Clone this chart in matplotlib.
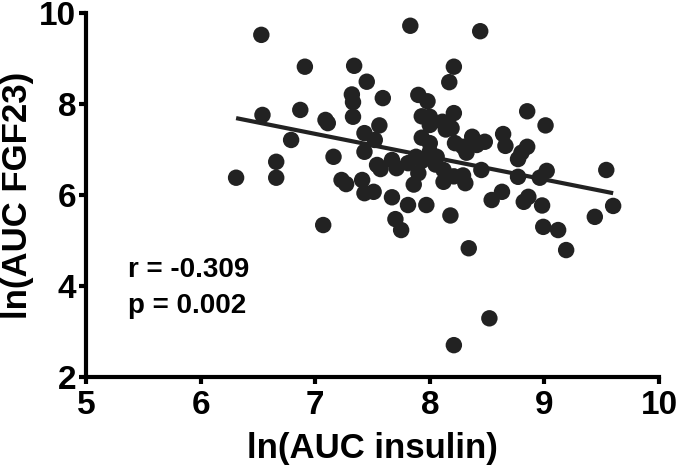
import matplotlib
matplotlib.use("Agg")
import matplotlib.pyplot as plt
import numpy as np

plt.rcParams['font.family'] = ['Liberation Sans', 'DejaVu Sans']
plt.rcParams['font.weight'] = 'bold'

insulin = [6.31, 6.53, 6.54, 6.66, 6.66, 6.79, 6.87, 6.91, 7.09, 7.11,
           7.07, 7.16, 7.23, 7.27, 7.32, 7.33, 7.34, 7.33, 7.41, 7.43,
           7.43, 7.45, 7.43, 7.51, 7.52, 7.56, 7.59, 7.54, 7.57, 7.67,
           7.71, 7.67, 7.70, 7.75, 7.81, 7.83, 7.88, 7.93, 7.90, 7.98,
           7.93, 8.00, 8.00, 7.93, 8.00, 7.81, 7.97, 7.86, 7.90, 8.00,
           8.06, 8.05, 8.12, 8.12, 8.15, 8.11, 8.14, 8.19, 8.21, 8.17,
           8.21, 8.22, 8.21, 8.29, 8.31, 8.29, 8.32, 8.37, 8.41, 8.48,
           8.44, 8.18, 8.21, 8.34, 8.52, 8.45, 8.54, 8.63, 8.64, 8.66,
           8.77, 8.80, 8.85, 8.77, 8.82, 8.86, 8.85, 9.01, 8.96, 9.02,
           8.98, 8.99, 9.12, 9.19, 9.44, 9.54, 9.60]
fgf23 = [6.38, 9.52, 7.76, 6.73, 6.38, 7.21, 7.87, 8.82, 7.65, 7.58,
         5.34, 6.84, 6.33, 6.24, 8.21, 8.04, 8.84, 7.72, 6.33, 7.36,
         6.95, 8.49, 6.04, 6.07, 7.21, 7.53, 8.13, 6.66, 6.57, 6.77,
         6.59, 5.95, 5.47, 5.23, 6.70, 9.72, 6.84, 6.75, 8.20, 8.06,
         7.73, 7.72, 7.54, 7.26, 7.14, 5.78, 5.78, 6.23, 6.48, 6.95,
         6.84, 6.67, 6.55, 6.29, 6.40, 7.61, 7.44, 7.47, 7.80, 8.48,
         8.82, 7.14, 6.41, 6.43, 6.26, 7.06, 6.93, 7.28, 7.10, 7.17,
         9.60, 5.55, 2.70, 4.83, 3.29, 6.55, 5.89, 6.07, 7.34, 7.08,
         6.79, 6.93, 7.06, 6.40, 5.85, 5.96, 7.84, 7.53, 6.38, 6.53,
         5.77, 5.30, 5.23, 4.79, 5.52, 6.55, 5.76]

fit_x = [6.31, 9.60]
fit_y = [7.69, 6.04]

x_ticks = [5, 6, 7, 8, 9, 10]
y_ticks = [2, 4, 6, 8, 10]
x_label = "ln(AUC insulin)"
y_label = "ln(AUC FGF23)"
stats_text = ["r = -0.309", "p = 0.002"]

fig = plt.figure(figsize=(6.77, 4.75), dpi=100)
ax = fig.add_axes([0.127, 0.2063, 0.8464, 0.7663])

col = '#222222'
ax.scatter(insulin, fgf23, s=140, color=col, edgecolors='none', zorder=3, clip_on=False)
ax.plot(fit_x, fit_y, color=col, lw=3.0, zorder=4, solid_capstyle='butt')

ax.set_xlim(5, 10)
ax.set_ylim(2, 10)
ax.set_xticks(x_ticks)
ax.set_yticks(y_ticks)
ax.set_xticklabels([str(t) for t in x_ticks], fontsize=24, fontweight='bold')
ax.set_yticklabels([str(t) for t in y_ticks], fontsize=24, fontweight='bold')

for s in ['top', 'right']:
    ax.spines[s].set_visible(False)
for s in ['left', 'bottom']:
    ax.spines[s].set_linewidth(3.0)
    ax.spines[s].set_color('black')
ax.tick_params(axis='both', direction='out', length=5, width=3.0, color='black', pad=2)
ax.tick_params(axis='x', pad=4)

ax.set_xlabel(x_label, fontsize=25, fontweight='bold', labelpad=8)
ax.set_ylabel(y_label, fontsize=25, fontweight='bold', labelpad=4)

ax.text(0.073, 0.275, stats_text[0], transform=ax.transAxes, fontsize=20,
        fontweight='bold', va='baseline', ha='left')
ax.text(0.073, 0.176, stats_text[1], transform=ax.transAxes, fontsize=20,
        fontweight='bold', va='baseline', ha='left')

fig.savefig("out.png", dpi=100)
